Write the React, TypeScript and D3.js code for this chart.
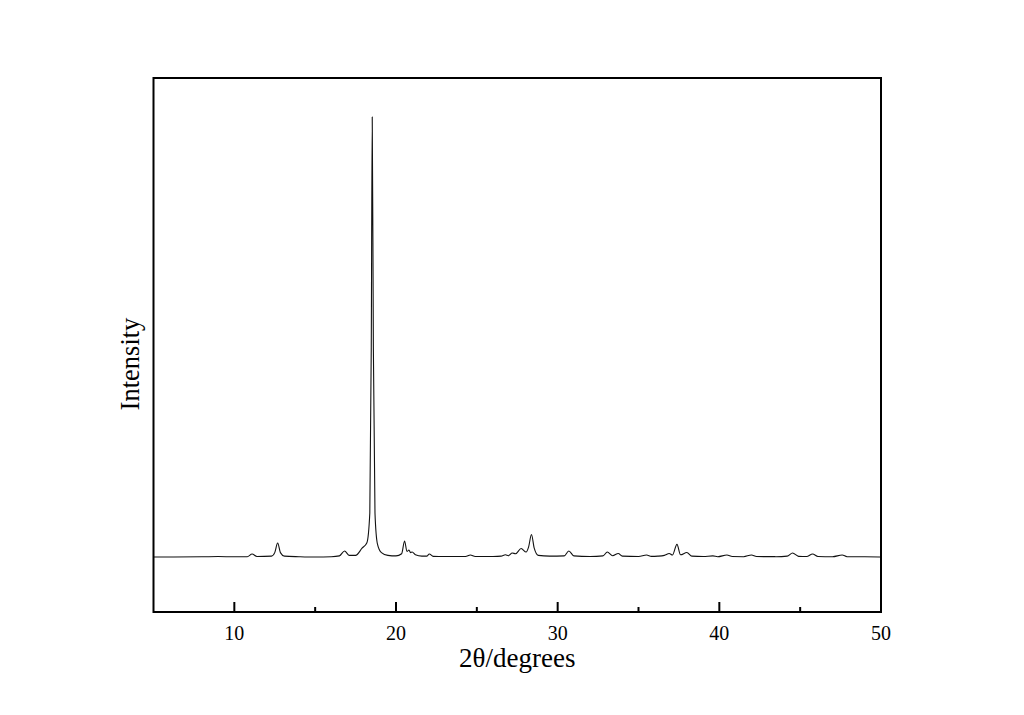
import React from "react";
import * as d3 from "d3";

const twoTheta = [
  5.0, 8.0, 9.0, 10.0, 10.8, 11.1, 11.4, 12.3, 12.5, 12.68, 12.85, 13.1, 14.0, 15.0,
  16.0, 16.5, 16.82, 17.1, 17.5, 17.9, 18.2, 18.38, 18.47, 18.53, 18.6, 18.7, 18.85,
  19.1, 19.5, 20.0, 20.35, 20.53, 20.68, 20.8, 20.9, 21.0, 21.2, 21.6, 21.9, 22.06,
  22.3, 23.0, 24.3, 24.6, 24.9, 26.0, 26.5, 26.77, 26.95, 27.19, 27.4, 27.74, 28.05,
  28.2, 28.38, 28.55, 28.8, 29.5, 30.4, 30.69, 31.0, 32.0, 32.8, 33.07, 33.4, 33.75,
  34.0, 35.0, 35.5, 35.8, 36.2, 36.6, 36.9, 37.1, 37.38, 37.6, 37.99, 38.3, 39.0,
  39.6, 39.9, 40.47, 40.8, 41.5, 41.99, 42.3, 43.5, 44.2, 44.53, 44.9, 45.4, 45.77,
  46.1, 47.0, 47.6, 47.9, 49.0, 50.0,
];
const intensity = [
  0, 2, 4, 2, 3, 27, 5, 8, 40, 127, 40, 8, 3, 0,
  2, 10, 55, 15, 15, 80, 130, 400, 1900, 4000, 1900, 400, 120,
  40, 15, 10, 30, 145, 50, 64, 40, 45, 20, 8, 8, 27,
  6, 4, 5, 18, 4, 5, 8, 20, 12, 36, 30, 77, 45,
  90, 204, 80, 15, 8, 10, 55, 10, 5, 10, 45, 12, 32,
  8, 5, 18, 6, 8, 15, 32, 18, 115, 20, 41, 8, 4,
  10, 3, 18, 4, 3, 18, 4, 3, 8, 36, 6, 4, 27,
  5, 3, 18, 3, 2, 0,
];
const xMajorTicks = [10, 20, 30, 40, 50];
const xMinorTicks = [15, 25, 35, 45];
const xLabel = "2θ/degrees";
const yLabel = "Intensity";

export default function App() {
  const W = 1024, H = 715;
  const left = 153.5, right = 881, top = 78, bottom = 612;
  const x = d3.scaleLinear().domain([5, 50]).range([left, right]);
  const y = d3.scaleLinear().domain([-500, 4355]).range([bottom, top]);
  const pts = twoTheta.map((t, i) => [t, intensity[i]] as [number, number]);
  const line = d3
    .line<[number, number]>()
    .x((d) => x(d[0]))
    .y((d) => y(d[1]))
    .curve(d3.curveMonotoneX);
  const font = "'Liberation Serif', 'Times New Roman', serif";
  return (
    <div style={{ position: "fixed", left: 0, top: 0 }}>
      <svg width={W} height={H} style={{ display: "block", background: "#fff" }}>
        <path d={line(pts) || ""} fill="none" stroke="#111" strokeWidth={1.1} />
        {xMajorTicks.map((t) => (
          <g key={"M" + t}>
            <line x1={x(t)} x2={x(t)} y1={bottom} y2={bottom - 10} stroke="#000" strokeWidth={2} />
            <text x={x(t)} y={640} textAnchor="middle" fontFamily={font} fontSize={20} fill="#000">
              {t}
            </text>
          </g>
        ))}
        {xMinorTicks.map((t) => (
          <line key={"m" + t} x1={x(t)} x2={x(t)} y1={bottom} y2={bottom - 5} stroke="#000" strokeWidth={2} />
        ))}
        <rect x={left} y={top} width={right - left} height={bottom - top} fill="none" stroke="#000" strokeWidth={2} />
        <text x={(left + right) / 2} y={667} textAnchor="middle" fontFamily={font} fontSize={27} fill="#000">
          {xLabel}
        </text>
        <text
          transform={`translate(139, ${364}) rotate(-90)`}
          textAnchor="middle"
          fontFamily={font}
          fontSize={26.5}
          fill="#000"
        >
          {yLabel}
        </text>
      </svg>
    </div>
  );
}
